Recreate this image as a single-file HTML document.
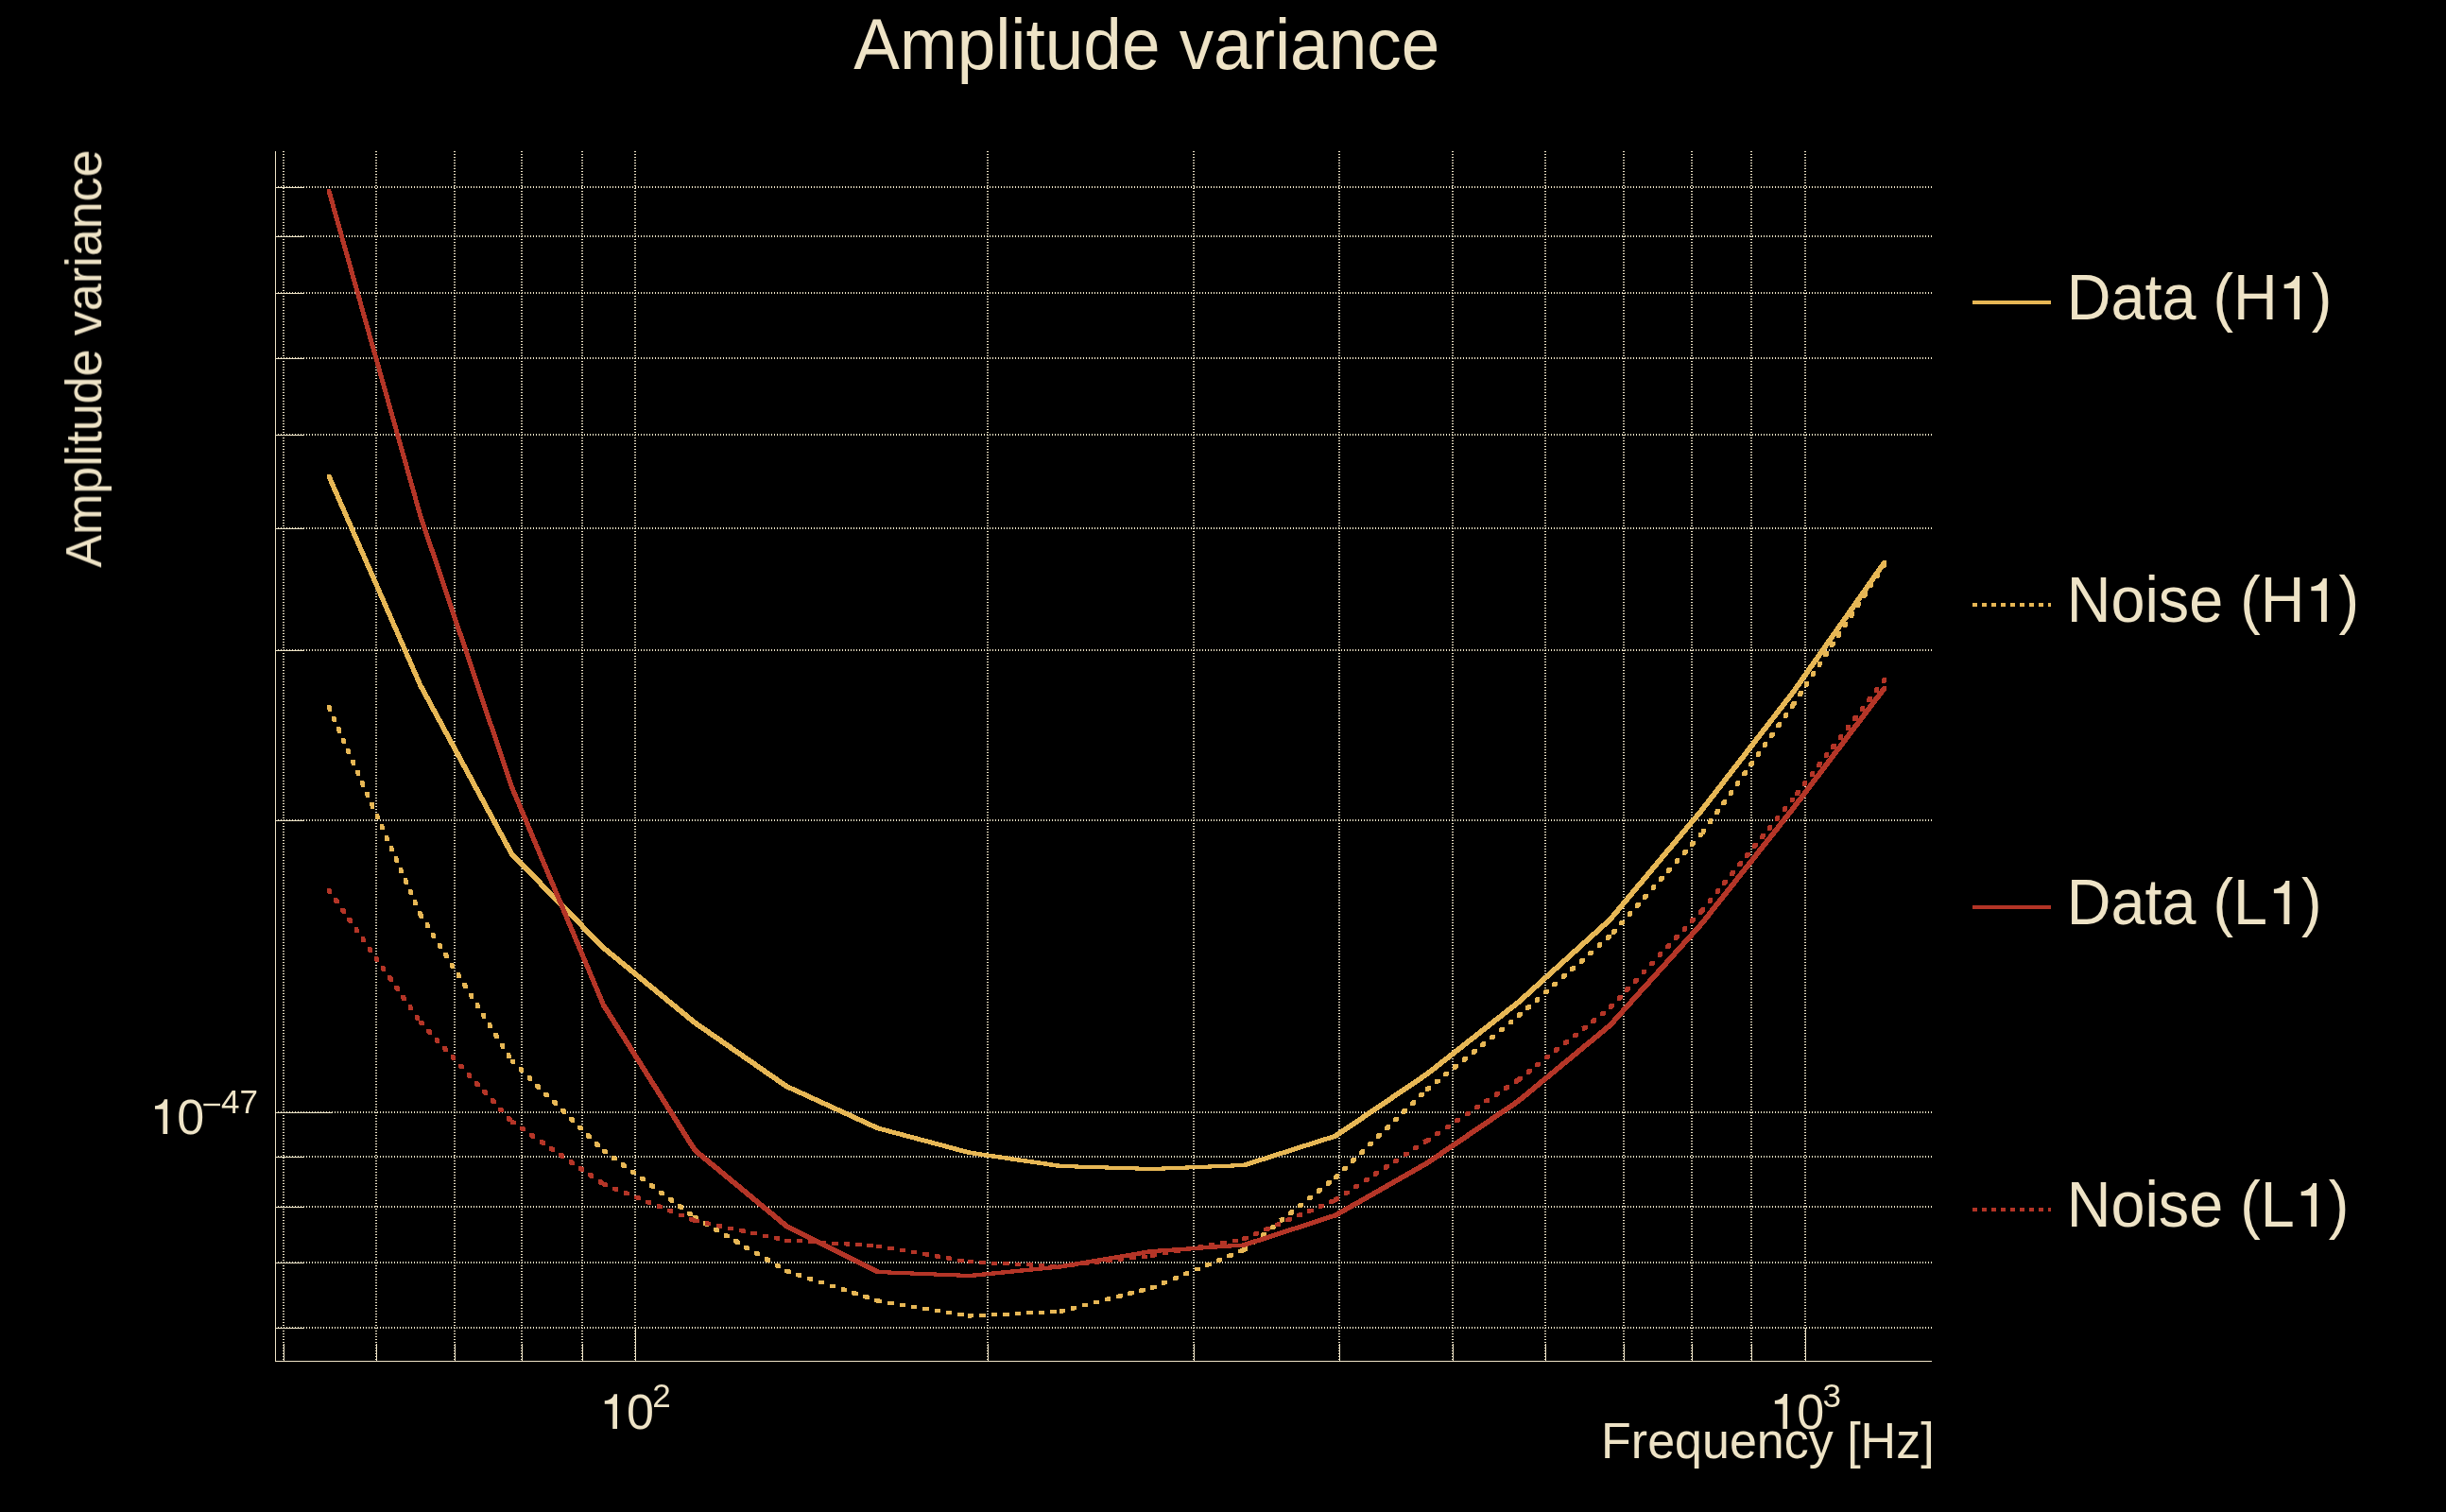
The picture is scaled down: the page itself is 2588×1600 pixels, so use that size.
<!DOCTYPE html>
<html><head><meta charset="utf-8"><title>Amplitude variance</title>
<style>
html,body{margin:0;padding:0;background:#000;}
body{width:2588px;height:1600px;overflow:hidden;}
svg{display:block;}
text{font-family:"Liberation Sans",sans-serif;fill:#EFE4C7;}
</style></head><body>
<svg width="2588" height="1600" viewBox="0 0 2588 1600">
<rect x="0" y="0" width="2588" height="1600" fill="#000"/>

<g stroke="#EFE4C7" stroke-width="2" stroke-dasharray="1 2" fill="none" shape-rendering="crispEdges">
<line x1="300" y1="160.0" x2="300" y2="1440.5"/>
<line x1="398" y1="160.0" x2="398" y2="1440.5"/>
<line x1="481" y1="160.0" x2="481" y2="1440.5"/>
<line x1="552" y1="160.0" x2="552" y2="1440.5"/>
<line x1="616" y1="160.0" x2="616" y2="1440.5"/>
<line x1="672" y1="160.0" x2="672" y2="1440.5"/>
<line x1="1045" y1="160.0" x2="1045" y2="1440.5"/>
<line x1="1263" y1="160.0" x2="1263" y2="1440.5"/>
<line x1="1417" y1="160.0" x2="1417" y2="1440.5"/>
<line x1="1537" y1="160.0" x2="1537" y2="1440.5"/>
<line x1="1635" y1="160.0" x2="1635" y2="1440.5"/>
<line x1="1718" y1="160.0" x2="1718" y2="1440.5"/>
<line x1="1790" y1="160.0" x2="1790" y2="1440.5"/>
<line x1="1853" y1="160.0" x2="1853" y2="1440.5"/>
<line x1="1910" y1="160.0" x2="1910" y2="1440.5"/>
<line x1="291.0" y1="198" x2="2044.0" y2="198"/>
<line x1="291.0" y1="250" x2="2044.0" y2="250"/>
<line x1="291.0" y1="310" x2="2044.0" y2="310"/>
<line x1="291.0" y1="379" x2="2044.0" y2="379"/>
<line x1="291.0" y1="460" x2="2044.0" y2="460"/>
<line x1="291.0" y1="559" x2="2044.0" y2="559"/>
<line x1="291.0" y1="688" x2="2044.0" y2="688"/>
<line x1="291.0" y1="868" x2="2044.0" y2="868"/>
<line x1="291.0" y1="1177" x2="2044.0" y2="1177"/>
<line x1="291.0" y1="1224" x2="2044.0" y2="1224"/>
<line x1="291.0" y1="1277" x2="2044.0" y2="1277"/>
<line x1="291.0" y1="1336" x2="2044.0" y2="1336"/>
<line x1="291.0" y1="1405" x2="2044.0" y2="1405"/>
</g>
<g stroke="#EFE4C7" stroke-width="1" fill="none" shape-rendering="crispEdges">
<line x1="291.5" y1="160.0" x2="291.5" y2="1440.5"/>
<line x1="291.5" y1="1440.5" x2="2044.0" y2="1440.5"/>
<line x1="291.5" y1="198.5" x2="321.5" y2="198.5"/>
<line x1="291.5" y1="250.5" x2="321.5" y2="250.5"/>
<line x1="291.5" y1="310.5" x2="321.5" y2="310.5"/>
<line x1="291.5" y1="379.5" x2="321.5" y2="379.5"/>
<line x1="291.5" y1="460.5" x2="321.5" y2="460.5"/>
<line x1="291.5" y1="559.5" x2="321.5" y2="559.5"/>
<line x1="291.5" y1="688.5" x2="321.5" y2="688.5"/>
<line x1="291.5" y1="868.5" x2="321.5" y2="868.5"/>
<line x1="291.5" y1="1177.5" x2="351.5" y2="1177.5"/>
<line x1="291.5" y1="1224.5" x2="321.5" y2="1224.5"/>
<line x1="291.5" y1="1277.5" x2="321.5" y2="1277.5"/>
<line x1="291.5" y1="1336.5" x2="321.5" y2="1336.5"/>
<line x1="291.5" y1="1405.5" x2="321.5" y2="1405.5"/>
<line x1="300.5" y1="1440.5" x2="300.5" y2="1421.5"/>
<line x1="398.5" y1="1440.5" x2="398.5" y2="1421.5"/>
<line x1="481.5" y1="1440.5" x2="481.5" y2="1421.5"/>
<line x1="552.5" y1="1440.5" x2="552.5" y2="1421.5"/>
<line x1="616.5" y1="1440.5" x2="616.5" y2="1421.5"/>
<line x1="672.5" y1="1440.5" x2="672.5" y2="1405.5"/>
<line x1="1045.5" y1="1440.5" x2="1045.5" y2="1421.5"/>
<line x1="1263.5" y1="1440.5" x2="1263.5" y2="1421.5"/>
<line x1="1417.5" y1="1440.5" x2="1417.5" y2="1421.5"/>
<line x1="1537.5" y1="1440.5" x2="1537.5" y2="1421.5"/>
<line x1="1635.5" y1="1440.5" x2="1635.5" y2="1421.5"/>
<line x1="1718.5" y1="1440.5" x2="1718.5" y2="1421.5"/>
<line x1="1790.5" y1="1440.5" x2="1790.5" y2="1421.5"/>
<line x1="1853.5" y1="1440.5" x2="1853.5" y2="1421.5"/>
<line x1="1910.5" y1="1440.5" x2="1910.5" y2="1405.5"/>
</g>
<path d="M346 502L350 502L446.8 723.2L446.8 727.2L442.8 727.2L346 506ZM442.8 723.2L446.8 723.2L543.6 901.9L543.6 905.9L539.6 905.9L442.8 727.2ZM539.6 901.9L543.6 901.9L640.5 1001L640.5 1005L636.5 1005L539.6 905.9ZM636.5 1001L640.5 1001L737.3 1080.3L737.3 1084.3L733.3 1084.3L636.5 1005ZM733.3 1080.3L737.3 1080.3L834.1 1147.5L834.1 1151.5L830.1 1151.5L733.3 1084.3ZM830.1 1147.5L834.1 1147.5L930.9 1191.9L930.9 1195.9L926.9 1195.9L830.1 1151.5ZM926.9 1191.9L930.9 1191.9L1027.8 1217.8L1027.8 1221.8L1023.8 1221.8L926.9 1195.9ZM1023.8 1217.8L1027.8 1217.8L1124.6 1232L1124.6 1236L1120.6 1236L1023.8 1221.8ZM1120.6 1232L1124.6 1232L1221.4 1235L1221.4 1239L1217.4 1239L1120.6 1236ZM1217.4 1235L1314.2 1231L1318.2 1231L1318.2 1235L1221.4 1239L1217.4 1239ZM1314.2 1231L1411.1 1200.1L1415.1 1200.1L1415.1 1204.1L1318.2 1235L1314.2 1235ZM1411.1 1200.1L1507.9 1134.5L1511.9 1134.5L1511.9 1138.5L1415.1 1204.1L1411.1 1204.1ZM1507.9 1134.5L1604.7 1058.5L1608.7 1058.5L1608.7 1062.5L1511.9 1138.5L1507.9 1138.5ZM1604.7 1058.5L1701.5 971.1L1705.5 971.1L1705.5 975.1L1608.7 1062.5L1604.7 1062.5ZM1701.5 971.1L1798.4 855.5L1802.4 855.5L1802.4 859.5L1705.5 975.1L1701.5 975.1ZM1798.4 855.5L1895.2 730.5L1899.2 730.5L1899.2 734.5L1802.4 859.5L1798.4 859.5ZM1895.2 730.5L1992 593L1996 593L1996 597L1899.2 734.5L1895.2 734.5Z" fill="#E7B755" stroke="none" shape-rendering="crispEdges"/>
<path d="M346 746.3L350 746.3L351 748.6L351 752.6L347 752.6L346 750.3ZM351 757.7L355 757.7L356.1 760L356.1 764L352.1 764L351 761.7ZM356.1 769.2L360.1 769.2L361.1 771.5L361.1 775.5L357.1 775.5L356.1 773.2ZM361.1 780.6L365.1 780.6L366.1 782.9L366.1 786.9L362.1 786.9L361.1 784.6ZM366.2 792L370.2 792L371.2 794.3L371.2 798.3L367.2 798.3L366.2 796ZM371.2 803.5L375.2 803.5L376.2 805.8L376.2 809.8L372.2 809.8L371.2 807.5ZM376.3 814.9L380.3 814.9L381.3 817.2L381.3 821.2L377.3 821.2L376.3 818.9ZM381.3 826.4L385.3 826.4L386.3 828.6L386.3 832.6L382.3 832.6L381.3 830.4ZM386.4 837.8L390.4 837.8L391.4 840.1L391.4 844.1L387.4 844.1L386.4 841.8ZM391.4 849.2L395.4 849.2L396.4 851.5L396.4 855.5L392.4 855.5L391.4 853.2ZM396.5 860.7L400.5 860.7L401.5 862.9L401.5 866.9L397.5 866.9L396.5 864.7ZM401.5 872.1L405.5 872.1L406.5 874.4L406.5 878.4L402.5 878.4L401.5 876.1ZM406.6 883.5L410.6 883.5L411.6 885.8L411.6 889.8L407.6 889.8L406.6 887.5ZM411.6 895L415.6 895L416.6 897.3L416.6 901.3L412.6 901.3L411.6 899ZM416.7 906.4L420.7 906.4L421.7 908.7L421.7 912.7L417.7 912.7L416.7 910.4ZM421.7 917.8L425.7 917.8L426.7 920.1L426.7 924.1L422.7 924.1L421.7 921.8ZM426.7 929.3L430.7 929.3L431.8 931.6L431.8 935.6L427.8 935.6L426.7 933.3ZM431.8 940.7L435.8 940.7L436.8 943L436.8 947L432.8 947L431.8 944.7ZM436.8 952.1L440.8 952.1L441.9 954.4L441.9 958.4L437.9 958.4L436.8 956.1ZM441.9 963.6L445.9 963.6L446.8 965.7L446.8 969.7L442.8 969.7L441.9 967.6ZM442.8 965.7L446.8 965.7L448.1 967.8L448.1 971.8L444.1 971.8L442.8 969.7ZM449.5 976.3L453.5 976.3L454.8 978.4L454.8 982.4L450.8 982.4L449.5 980.3ZM456.1 986.9L460.1 986.9L461.4 989L461.4 993L457.4 993L456.1 990.9ZM462.7 997.5L466.7 997.5L468 999.6L468 1003.6L464 1003.6L462.7 1001.5ZM469.3 1008.1L473.3 1008.1L474.7 1010.2L474.7 1014.2L470.7 1014.2L469.3 1012.1ZM476 1018.7L480 1018.7L481.3 1020.8L481.3 1024.8L477.3 1024.8L476 1022.7ZM482.6 1029.3L486.6 1029.3L487.9 1031.4L487.9 1035.4L483.9 1035.4L482.6 1033.3ZM489.2 1039.9L493.2 1039.9L494.5 1042L494.5 1046L490.5 1046L489.2 1043.9ZM495.9 1050.5L499.9 1050.5L501.2 1052.6L501.2 1056.6L497.2 1056.6L495.9 1054.5ZM502.5 1061.1L506.5 1061.1L507.8 1063.2L507.8 1067.2L503.8 1067.2L502.5 1065.1ZM509.1 1071.7L513.1 1071.7L514.4 1073.8L514.4 1077.8L510.4 1077.8L509.1 1075.7ZM515.7 1082.3L519.7 1082.3L521.1 1084.4L521.1 1088.4L517.1 1088.4L515.7 1086.3ZM522.4 1092.9L526.4 1092.9L527.7 1095L527.7 1099L523.7 1099L522.4 1096.9ZM529 1103.5L533 1103.5L534.3 1105.6L534.3 1109.6L530.3 1109.6L529 1107.5ZM535.6 1114.1L539.6 1114.1L540.9 1116.2L540.9 1120.2L536.9 1120.2L535.6 1118.1ZM539.6 1120.5L543.6 1120.5L545.4 1122.3L545.4 1126.3L541.4 1126.3L539.6 1124.5ZM548.6 1129.3L552.6 1129.3L554.4 1131L554.4 1135L550.4 1135L548.6 1133.3ZM557.5 1138L561.5 1138L563.3 1139.8L563.3 1143.8L559.3 1143.8L557.5 1142ZM566.4 1146.8L570.4 1146.8L572.2 1148.5L572.2 1152.5L568.2 1152.5L566.4 1150.8ZM575.3 1155.5L579.3 1155.5L581.1 1157.3L581.1 1161.3L577.1 1161.3L575.3 1159.5ZM584.3 1164.3L588.3 1164.3L590 1166L590 1170L586 1170L584.3 1168.3ZM593.2 1173L597.2 1173L599 1174.8L599 1178.8L595 1178.8L593.2 1177ZM602.1 1181.8L606.1 1181.8L607.9 1183.5L607.9 1187.5L603.9 1187.5L602.1 1185.8ZM611 1190.5L615 1190.5L616.8 1192.3L616.8 1196.3L612.8 1196.3L611 1194.5ZM619.9 1199.3L623.9 1199.3L625.7 1201L625.7 1205L621.7 1205L619.9 1203.3ZM628.9 1208L632.9 1208L634.7 1209.8L634.7 1213.8L630.7 1213.8L628.9 1212ZM636.5 1215.5L640.5 1215.5L642.5 1217L642.5 1221L638.5 1221L636.5 1219.5ZM646.6 1222.9L650.6 1222.9L652.6 1224.3L652.6 1228.3L648.6 1228.3L646.6 1226.9ZM656.7 1230.2L660.7 1230.2L662.7 1231.7L662.7 1235.7L658.7 1235.7L656.7 1234.2ZM666.8 1237.6L670.8 1237.6L672.8 1239L672.8 1243L668.8 1243L666.8 1241.6ZM676.9 1244.9L680.9 1244.9L682.9 1246.4L682.9 1250.4L678.9 1250.4L676.9 1248.9ZM687 1252.3L691 1252.3L693 1253.8L693 1257.8L689 1257.8L687 1256.3ZM697.1 1259.6L701.1 1259.6L703.1 1261.1L703.1 1265.1L699.1 1265.1L697.1 1263.6ZM707.2 1267L711.2 1267L713.2 1268.5L713.2 1272.5L709.2 1272.5L707.2 1271ZM717.3 1274.4L721.3 1274.4L723.3 1275.8L723.3 1279.8L719.3 1279.8L717.3 1278.4ZM727.4 1281.7L731.4 1281.7L733.4 1283.2L733.4 1287.2L729.4 1287.2L727.4 1285.7ZM733.3 1286L737.3 1286L739.4 1287.3L739.4 1291.3L735.4 1291.3L733.3 1290ZM744.1 1292.3L748.1 1292.3L750.2 1293.6L750.2 1297.6L746.2 1297.6L744.1 1296.3ZM754.8 1298.7L758.8 1298.7L761 1300L761 1304L757 1304L754.8 1302.7ZM765.6 1305L769.6 1305L771.8 1306.3L771.8 1310.3L767.8 1310.3L765.6 1309ZM776.4 1311.4L780.4 1311.4L782.5 1312.6L782.5 1316.6L778.5 1316.6L776.4 1315.4ZM787.2 1317.7L791.2 1317.7L793.3 1319L793.3 1323L789.3 1323L787.2 1321.7ZM797.9 1324L801.9 1324L804.1 1325.3L804.1 1329.3L800.1 1329.3L797.9 1328ZM808.7 1330.4L812.7 1330.4L814.9 1331.7L814.9 1335.7L810.9 1335.7L808.7 1334.4ZM819.5 1336.7L823.5 1336.7L825.6 1338L825.6 1342L821.6 1342L819.5 1340.7ZM830.1 1343L834.1 1343L836.5 1343.8L836.5 1347.8L832.5 1347.8L830.1 1347ZM842 1346.9L846 1346.9L848.4 1347.7L848.4 1351.7L844.4 1351.7L842 1350.9ZM853.9 1350.8L857.9 1350.8L860.3 1351.5L860.3 1355.5L856.3 1355.5L853.9 1354.8ZM865.8 1354.6L869.8 1354.6L872.1 1355.4L872.1 1359.4L868.1 1359.4L865.8 1358.6ZM877.7 1358.5L881.7 1358.5L884 1359.3L884 1363.3L880 1363.3L877.7 1362.5ZM889.5 1362.4L893.5 1362.4L895.9 1363.2L895.9 1367.2L891.9 1367.2L889.5 1366.4ZM901.4 1366.3L905.4 1366.3L907.8 1367L907.8 1371L903.8 1371L901.4 1370.3ZM913.3 1370.1L917.3 1370.1L919.7 1370.9L919.7 1374.9L915.7 1374.9L913.3 1374.1ZM925.2 1374L929.2 1374L930.9 1374.6L930.9 1378.6L926.9 1378.6L925.2 1378ZM926.9 1374.6L930.9 1374.6L933.4 1375L933.4 1379L929.4 1379L926.9 1378.6ZM939.3 1376.6L943.3 1376.6L945.7 1377L945.7 1381L941.7 1381L939.3 1380.6ZM951.6 1378.7L955.6 1378.7L958.1 1379.1L958.1 1383.1L954.1 1383.1L951.6 1382.7ZM963.9 1380.7L967.9 1380.7L970.4 1381.1L970.4 1385.1L966.4 1385.1L963.9 1384.7ZM976.3 1382.7L980.3 1382.7L982.7 1383.1L982.7 1387.1L978.7 1387.1L976.3 1386.7ZM988.6 1384.7L992.6 1384.7L995.1 1385.1L995.1 1389.1L991.1 1389.1L988.6 1388.7ZM1000.9 1386.8L1004.9 1386.8L1007.4 1387.2L1007.4 1391.2L1003.4 1391.2L1000.9 1390.8ZM1013.3 1388.8L1017.3 1388.8L1019.8 1389.2L1019.8 1393.2L1015.8 1393.2L1013.3 1392.8ZM1023.8 1390.5L1026.3 1390.4L1030.3 1390.4L1030.3 1394.4L1027.8 1394.5L1023.8 1394.5ZM1036.2 1389.9L1038.7 1389.7L1042.7 1389.7L1042.7 1393.7L1040.2 1393.9L1036.2 1393.9ZM1048.7 1389.2L1051.2 1389.1L1055.2 1389.1L1055.2 1393.1L1052.7 1393.2L1048.7 1393.2ZM1061.2 1388.6L1063.7 1388.5L1067.7 1388.5L1067.7 1392.5L1065.2 1392.6L1061.2 1392.6ZM1073.7 1388L1076.2 1387.8L1080.2 1387.8L1080.2 1391.8L1077.7 1392L1073.7 1392ZM1086.2 1387.3L1088.7 1387.2L1092.7 1387.2L1092.7 1391.2L1090.2 1391.3L1086.2 1391.3ZM1098.7 1386.7L1101.2 1386.6L1105.2 1386.6L1105.2 1390.6L1102.7 1390.7L1098.7 1390.7ZM1111.2 1386.1L1113.6 1386L1117.6 1386L1117.6 1390L1115.2 1390.1L1111.2 1390.1ZM1120.6 1385.6L1123 1385L1127 1385L1127 1389L1124.6 1389.6L1120.6 1389.6ZM1132.7 1382.5L1135.1 1381.8L1139.1 1381.8L1139.1 1385.8L1136.7 1386.5L1132.7 1386.5ZM1144.8 1379.3L1147.2 1378.7L1151.2 1378.7L1151.2 1382.7L1148.8 1383.3L1144.8 1383.3ZM1156.9 1376.2L1159.3 1375.6L1163.3 1375.6L1163.3 1379.6L1160.9 1380.2L1156.9 1380.2ZM1169 1373.1L1171.4 1372.4L1175.4 1372.4L1175.4 1376.4L1173 1377.1L1169 1377.1ZM1181.1 1369.9L1183.5 1369.3L1187.5 1369.3L1187.5 1373.3L1185.1 1373.9L1181.1 1373.9ZM1193.2 1366.8L1195.6 1366.2L1199.6 1366.2L1199.6 1370.2L1197.2 1370.8L1193.2 1370.8ZM1205.3 1363.6L1207.7 1363L1211.7 1363L1211.7 1367L1209.3 1367.6L1205.3 1367.6ZM1217.4 1360.5L1217.4 1360.5L1221.4 1360.5L1221.4 1364.5L1221.4 1364.5L1217.4 1364.5ZM1217.4 1360.5L1219.7 1359.5L1223.7 1359.5L1223.7 1363.5L1221.4 1364.5L1217.4 1364.5ZM1229 1355.7L1231.3 1354.8L1235.3 1354.8L1235.3 1358.8L1233 1359.7L1229 1359.7ZM1240.5 1351L1242.8 1350L1246.8 1350L1246.8 1354L1244.5 1355L1240.5 1355ZM1252.1 1346.2L1254.4 1345.2L1258.4 1345.2L1258.4 1349.2L1256.1 1350.2L1252.1 1350.2ZM1263.6 1341.4L1265.9 1340.5L1269.9 1340.5L1269.9 1344.5L1267.6 1345.4L1263.6 1345.4ZM1275.2 1336.6L1277.5 1335.7L1281.5 1335.7L1281.5 1339.7L1279.2 1340.6L1275.2 1340.6ZM1286.7 1331.9L1289 1330.9L1293 1330.9L1293 1334.9L1290.7 1335.9L1286.7 1335.9ZM1298.3 1327.1L1300.6 1326.1L1304.6 1326.1L1304.6 1330.1L1302.3 1331.1L1298.3 1331.1ZM1309.8 1322.3L1312.1 1321.4L1316.1 1321.4L1316.1 1325.4L1313.8 1326.3L1309.8 1326.3ZM1314.2 1320.5L1316.2 1319L1320.2 1319L1320.2 1323L1318.2 1324.5L1314.2 1324.5ZM1324 1312.8L1326 1311.2L1330 1311.2L1330 1315.2L1328 1316.8L1324 1316.8ZM1333.9 1305L1335.8 1303.5L1339.8 1303.5L1339.8 1307.5L1337.9 1309L1333.9 1309ZM1343.7 1297.3L1345.6 1295.7L1349.6 1295.7L1349.6 1299.7L1347.7 1301.3L1343.7 1301.3ZM1353.5 1289.5L1355.4 1288L1359.4 1288L1359.4 1292L1357.5 1293.5L1353.5 1293.5ZM1363.3 1281.8L1365.2 1280.2L1369.2 1280.2L1369.2 1284.2L1367.3 1285.8L1363.3 1285.8ZM1373.1 1274L1375 1272.5L1379 1272.5L1379 1276.5L1377.1 1278L1373.1 1278ZM1382.9 1266.3L1384.9 1264.7L1388.9 1264.7L1388.9 1268.7L1386.9 1270.3L1382.9 1270.3ZM1392.7 1258.5L1394.7 1257L1398.7 1257L1398.7 1261L1396.7 1262.5L1392.7 1262.5ZM1402.5 1250.8L1404.5 1249.2L1408.5 1249.2L1408.5 1253.2L1406.5 1254.8L1402.5 1254.8ZM1411.1 1244L1412.9 1242.3L1416.9 1242.3L1416.9 1246.3L1415.1 1248L1411.1 1248ZM1420.1 1235.3L1421.9 1233.6L1425.9 1233.6L1425.9 1237.6L1424.1 1239.3L1420.1 1239.3ZM1429.1 1226.7L1430.9 1225L1434.9 1225L1434.9 1229L1433.1 1230.7L1429.1 1230.7ZM1438.1 1218L1439.9 1216.3L1443.9 1216.3L1443.9 1220.3L1442.1 1222L1438.1 1222ZM1447.1 1209.4L1448.9 1207.6L1452.9 1207.6L1452.9 1211.6L1451.1 1213.4L1447.1 1213.4ZM1456.1 1200.7L1457.9 1199L1461.9 1199L1461.9 1203L1460.1 1204.7L1456.1 1204.7ZM1465.1 1192L1467 1190.3L1471 1190.3L1471 1194.3L1469.1 1196L1465.1 1196ZM1474.2 1183.4L1476 1181.7L1480 1181.7L1480 1185.7L1478.2 1187.4L1474.2 1187.4ZM1483.2 1174.7L1485 1173L1489 1173L1489 1177L1487.2 1178.7L1483.2 1178.7ZM1492.2 1166.1L1494 1164.3L1498 1164.3L1498 1168.3L1496.2 1170.1L1492.2 1170.1ZM1501.2 1157.4L1503 1155.7L1507 1155.7L1507 1159.7L1505.2 1161.4L1501.2 1161.4ZM1507.9 1151L1509.8 1149.4L1513.8 1149.4L1513.8 1153.4L1511.9 1155L1507.9 1155ZM1517.6 1143.2L1519.6 1141.6L1523.6 1141.6L1523.6 1145.6L1521.6 1147.2L1517.6 1147.2ZM1527.4 1135.3L1529.3 1133.7L1533.3 1133.7L1533.3 1137.7L1531.4 1139.3L1527.4 1139.3ZM1537.1 1127.5L1539 1125.9L1543 1125.9L1543 1129.9L1541.1 1131.5L1537.1 1131.5ZM1546.8 1119.6L1548.8 1118.1L1552.8 1118.1L1552.8 1122.1L1550.8 1123.6L1546.8 1123.6ZM1556.6 1111.8L1558.5 1110.2L1562.5 1110.2L1562.5 1114.2L1560.6 1115.8L1556.6 1115.8ZM1566.3 1103.9L1568.2 1102.4L1572.2 1102.4L1572.2 1106.4L1570.3 1107.9L1566.3 1107.9ZM1576 1096.1L1578 1094.5L1582 1094.5L1582 1098.5L1580 1100.1L1576 1100.1ZM1585.8 1088.3L1587.7 1086.7L1591.7 1086.7L1591.7 1090.7L1589.8 1092.3L1585.8 1092.3ZM1595.5 1080.4L1597.4 1078.9L1601.4 1078.9L1601.4 1082.9L1599.5 1084.4L1595.5 1084.4ZM1604.7 1073L1606.6 1071.4L1610.6 1071.4L1610.6 1075.4L1608.7 1077L1604.7 1077ZM1614.1 1064.8L1616 1063.1L1620 1063.1L1620 1067.1L1618.1 1068.8L1614.1 1068.8ZM1623.5 1056.6L1625.4 1054.9L1629.4 1054.9L1629.4 1058.9L1627.5 1060.6L1623.5 1060.6ZM1633 1048.3L1634.8 1046.7L1638.8 1046.7L1638.8 1050.7L1637 1052.3L1633 1052.3ZM1642.4 1040.1L1644.3 1038.5L1648.3 1038.5L1648.3 1042.5L1646.4 1044.1L1642.4 1044.1ZM1651.8 1031.9L1653.7 1030.3L1657.7 1030.3L1657.7 1034.3L1655.8 1035.9L1651.8 1035.9ZM1661.2 1023.7L1663.1 1022L1667.1 1022L1667.1 1026L1665.2 1027.7L1661.2 1027.7ZM1670.6 1015.5L1672.5 1013.8L1676.5 1013.8L1676.5 1017.8L1674.6 1019.5L1670.6 1019.5ZM1680 1007.2L1681.9 1005.6L1685.9 1005.6L1685.9 1009.6L1684 1011.2L1680 1011.2ZM1689.5 999L1691.3 997.4L1695.3 997.4L1695.3 1001.4L1693.5 1003L1689.5 1003ZM1698.9 990.8L1700.8 989.2L1704.8 989.2L1704.8 993.2L1702.9 994.8L1698.9 994.8ZM1796.7 882.4L1798.4 880.5L1802.4 880.5L1802.4 884.5L1800.7 886.4L1796.7 886.4ZM1788.3 891.7L1790 889.8L1794 889.8L1794 893.8L1792.3 895.7L1788.3 895.7ZM1780 901L1781.7 899.1L1785.7 899.1L1785.7 903.1L1784 905L1780 905ZM1771.7 910.3L1773.3 908.4L1777.3 908.4L1777.3 912.4L1775.7 914.3L1771.7 914.3ZM1763.3 919.6L1765 917.7L1769 917.7L1769 921.7L1767.3 923.6L1763.3 923.6ZM1755 928.9L1756.6 927L1760.6 927L1760.6 931L1759 932.9L1755 932.9ZM1746.6 938.2L1748.3 936.3L1752.3 936.3L1752.3 940.3L1750.6 942.2L1746.6 942.2ZM1738.3 947.5L1739.9 945.7L1743.9 945.7L1743.9 949.7L1742.3 951.5L1738.3 951.5ZM1729.9 956.8L1731.6 955L1735.6 955L1735.6 959L1733.9 960.8L1729.9 960.8ZM1721.6 966.1L1723.3 964.3L1727.3 964.3L1727.3 968.3L1725.6 970.1L1721.6 970.1ZM1713.2 975.4L1714.9 973.6L1718.9 973.6L1718.9 977.6L1717.2 979.4L1713.2 979.4ZM1704.9 984.7L1706.6 982.9L1710.6 982.9L1710.6 986.9L1708.9 988.7L1704.9 988.7ZM1893.7 746L1895.2 744L1899.2 744L1899.2 748L1897.7 750L1893.7 750ZM1886.5 756.2L1887.9 754.2L1891.9 754.2L1891.9 758.2L1890.5 760.2L1886.5 760.2ZM1879.3 766.4L1880.7 764.4L1884.7 764.4L1884.7 768.4L1883.3 770.4L1879.3 770.4ZM1872 776.6L1873.5 774.6L1877.5 774.6L1877.5 778.6L1876 780.6L1872 780.6ZM1864.8 786.8L1866.2 784.8L1870.2 784.8L1870.2 788.8L1868.8 790.8L1864.8 790.8ZM1857.6 797L1859 795L1863 795L1863 799L1861.6 801L1857.6 801ZM1850.3 807.2L1851.8 805.2L1855.8 805.2L1855.8 809.2L1854.3 811.2L1850.3 811.2ZM1843.1 817.4L1844.6 815.4L1848.6 815.4L1848.6 819.4L1847.1 821.4L1843.1 821.4ZM1835.9 827.6L1837.3 825.6L1841.3 825.6L1841.3 829.6L1839.9 831.6L1835.9 831.6ZM1828.6 837.8L1830.1 835.8L1834.1 835.8L1834.1 839.8L1832.6 841.8L1828.6 841.8ZM1821.4 848L1822.9 846L1826.9 846L1826.9 850L1825.4 852L1821.4 852ZM1814.2 858.2L1815.6 856.2L1819.6 856.2L1819.6 860.2L1818.2 862.2L1814.2 862.2ZM1806.9 868.4L1808.4 866.3L1812.4 866.3L1812.4 870.3L1810.9 872.4L1806.9 872.4ZM1799.7 878.6L1801.2 876.5L1805.2 876.5L1805.2 880.5L1803.7 882.6L1799.7 882.6ZM1990.6 597.1L1992 595L1996 595L1996 599L1994.6 601.1L1990.6 601.1ZM1983.8 607.6L1985.2 605.5L1989.2 605.5L1989.2 609.5L1987.8 611.6L1983.8 611.6ZM1977 618.1L1978.4 616L1982.4 616L1982.4 620L1981 622.1L1977 622.1ZM1970.2 628.5L1971.6 626.4L1975.6 626.4L1975.6 630.4L1974.2 632.5L1970.2 632.5ZM1963.4 639L1964.8 636.9L1968.8 636.9L1968.8 640.9L1967.4 643L1963.4 643ZM1956.6 649.5L1957.9 647.4L1961.9 647.4L1961.9 651.4L1960.6 653.5L1956.6 653.5ZM1949.8 660L1951.1 657.9L1955.1 657.9L1955.1 661.9L1953.8 664L1949.8 664ZM1943 670.5L1944.3 668.4L1948.3 668.4L1948.3 672.4L1947 674.5L1943 674.5ZM1936.1 680.9L1937.5 678.9L1941.5 678.9L1941.5 682.9L1940.1 684.9L1936.1 684.9ZM1929.3 691.4L1930.7 689.3L1934.7 689.3L1934.7 693.3L1933.3 695.4L1929.3 695.4ZM1922.5 701.9L1923.9 699.8L1927.9 699.8L1927.9 703.8L1926.5 705.9L1922.5 705.9ZM1915.7 712.4L1917.1 710.3L1921.1 710.3L1921.1 714.3L1919.7 716.4L1915.7 716.4ZM1908.9 722.9L1910.3 720.8L1914.3 720.8L1914.3 724.8L1912.9 726.9L1908.9 726.9ZM1902.1 733.4L1903.5 731.3L1907.5 731.3L1907.5 735.3L1906.1 737.4L1902.1 737.4ZM1895.3 743.8L1896.6 741.7L1900.6 741.7L1900.6 745.7L1899.3 747.8L1895.3 747.8Z" fill="#E7B755" stroke="none" shape-rendering="crispEdges"/>
<path d="M346 200L350 200L446.8 543.8L446.8 547.8L442.8 547.8L346 204ZM442.8 543.8L446.8 543.8L543.6 831L543.6 835L539.6 835L442.8 547.8ZM539.6 831L543.6 831L640.5 1061.5L640.5 1065.5L636.5 1065.5L539.6 835ZM636.5 1061.5L640.5 1061.5L737.3 1215.3L737.3 1219.3L733.3 1219.3L636.5 1065.5ZM733.3 1215.3L737.3 1215.3L834.1 1295.3L834.1 1299.3L830.1 1299.3L733.3 1219.3ZM830.1 1295.3L834.1 1295.3L930.9 1344L930.9 1348L926.9 1348L830.1 1299.3ZM926.9 1344L930.9 1344L1027.8 1348L1027.8 1352L1023.8 1352L926.9 1348ZM1023.8 1348L1120.6 1338.3L1124.6 1338.3L1124.6 1342.3L1027.8 1352L1023.8 1352ZM1120.6 1338.3L1217.4 1322L1221.4 1322L1221.4 1326L1124.6 1342.3L1120.6 1342.3ZM1217.4 1322L1314.2 1315.5L1318.2 1315.5L1318.2 1319.5L1221.4 1326L1217.4 1326ZM1314.2 1315.5L1411.1 1284L1415.1 1284L1415.1 1288L1318.2 1319.5L1314.2 1319.5ZM1411.1 1284L1507.9 1228.8L1511.9 1228.8L1511.9 1232.8L1415.1 1288L1411.1 1288ZM1507.9 1228.8L1604.7 1163L1608.7 1163L1608.7 1167L1511.9 1232.8L1507.9 1232.8ZM1604.7 1163L1701.5 1083L1705.5 1083L1705.5 1087L1608.7 1167L1604.7 1167ZM1701.5 1083L1798.4 975.5L1802.4 975.5L1802.4 979.5L1705.5 1087L1701.5 1087ZM1798.4 975.5L1895.2 853.5L1899.2 853.5L1899.2 857.5L1802.4 979.5L1798.4 979.5ZM1895.2 853.5L1992 726L1996 726L1996 730L1899.2 857.5L1895.2 857.5Z" fill="#B43527" stroke="none" shape-rendering="crispEdges"/>
<path d="M346 940L350 940L351.4 942.1L351.4 946.1L347.4 946.1L346 944ZM353.1 950.3L357.1 950.3L358.6 952.3L358.6 956.3L354.6 956.3L353.1 954.3ZM360.3 960.5L364.3 960.5L365.7 962.6L365.7 966.6L361.7 966.6L360.3 964.5ZM367.4 970.8L371.4 970.8L372.8 972.9L372.8 976.9L368.8 976.9L367.4 974.8ZM374.5 981.1L378.5 981.1L379.9 983.1L379.9 987.1L375.9 987.1L374.5 985.1ZM381.6 991.3L385.6 991.3L387.1 993.4L387.1 997.4L383.1 997.4L381.6 995.3ZM388.8 1001.6L392.8 1001.6L394.2 1003.7L394.2 1007.7L390.2 1007.7L388.8 1005.6ZM395.9 1011.9L399.9 1011.9L401.3 1013.9L401.3 1017.9L397.3 1017.9L395.9 1015.9ZM403 1022.2L407 1022.2L408.4 1024.2L408.4 1028.2L404.4 1028.2L403 1026.2ZM410.1 1032.4L414.1 1032.4L415.6 1034.5L415.6 1038.5L411.6 1038.5L410.1 1036.4ZM417.3 1042.7L421.3 1042.7L422.7 1044.7L422.7 1048.7L418.7 1048.7L417.3 1046.7ZM424.4 1053L428.4 1053L429.8 1055L429.8 1059L425.8 1059L424.4 1057ZM431.5 1063.2L435.5 1063.2L437 1065.3L437 1069.3L433 1069.3L431.5 1067.2ZM438.7 1073.5L442.7 1073.5L444.1 1075.5L444.1 1079.5L440.1 1079.5L438.7 1077.5ZM442.8 1079.5L446.8 1079.5L448.5 1081.3L448.5 1085.3L444.5 1085.3L442.8 1083.5ZM451.3 1088.7L455.3 1088.7L457 1090.6L457 1094.6L453 1094.6L451.3 1092.7ZM459.7 1097.9L463.7 1097.9L465.4 1099.8L465.4 1103.8L461.4 1103.8L459.7 1101.9ZM468.2 1107.1L472.2 1107.1L473.9 1109L473.9 1113L469.9 1113L468.2 1111.1ZM476.6 1116.3L480.6 1116.3L482.3 1118.2L482.3 1122.2L478.3 1122.2L476.6 1120.3ZM485.1 1125.5L489.1 1125.5L490.8 1127.4L490.8 1131.4L486.8 1131.4L485.1 1129.5ZM493.5 1134.8L497.5 1134.8L499.2 1136.6L499.2 1140.6L495.2 1140.6L493.5 1138.8ZM502 1144L506 1144L507.7 1145.8L507.7 1149.8L503.7 1149.8L502 1148ZM510.4 1153.2L514.4 1153.2L516.1 1155L516.1 1159L512.1 1159L510.4 1157.2ZM518.9 1162.4L522.9 1162.4L524.6 1164.2L524.6 1168.2L520.6 1168.2L518.9 1166.4ZM527.3 1171.6L531.3 1171.6L533 1173.4L533 1177.4L529 1177.4L527.3 1175.6ZM535.8 1180.8L539.8 1180.8L541.5 1182.6L541.5 1186.6L537.5 1186.6L535.8 1184.8ZM539.6 1185L543.6 1185L545.7 1186.4L545.7 1190.4L541.7 1190.4L539.6 1189ZM550 1192L554 1192L556 1193.4L556 1197.4L552 1197.4L550 1196ZM560.3 1199.1L564.3 1199.1L566.4 1200.5L566.4 1204.5L562.4 1204.5L560.3 1203.1ZM570.6 1206.1L574.6 1206.1L576.7 1207.5L576.7 1211.5L572.7 1211.5L570.6 1210.1ZM581 1213.2L585 1213.2L587 1214.6L587 1218.6L583 1218.6L581 1217.2ZM591.3 1220.2L595.3 1220.2L597.4 1221.6L597.4 1225.6L593.4 1225.6L591.3 1224.2ZM601.6 1227.2L605.6 1227.2L607.7 1228.7L607.7 1232.7L603.7 1232.7L601.6 1231.2ZM611.9 1234.3L615.9 1234.3L618 1235.7L618 1239.7L614 1239.7L611.9 1238.3ZM622.3 1241.3L626.3 1241.3L628.3 1242.7L628.3 1246.7L624.3 1246.7L622.3 1245.3ZM632.6 1248.4L636.6 1248.4L638.7 1249.8L638.7 1253.8L634.7 1253.8L632.6 1252.4ZM636.5 1251L640.5 1251L642.8 1251.9L642.8 1255.9L638.8 1255.9L636.5 1255ZM648.1 1255.6L652.1 1255.6L654.4 1256.6L654.4 1260.6L650.4 1260.6L648.1 1259.6ZM659.7 1260.3L663.7 1260.3L666 1261.2L666 1265.2L662 1265.2L659.7 1264.3ZM671.3 1264.9L675.3 1264.9L677.6 1265.8L677.6 1269.8L673.6 1269.8L671.3 1268.9ZM682.9 1269.6L686.9 1269.6L689.2 1270.5L689.2 1274.5L685.2 1274.5L682.9 1273.6ZM694.5 1274.2L698.5 1274.2L700.8 1275.1L700.8 1279.1L696.8 1279.1L694.5 1278.2ZM706.1 1278.8L710.1 1278.8L712.4 1279.8L712.4 1283.8L708.4 1283.8L706.1 1282.8ZM717.7 1283.5L721.7 1283.5L724 1284.4L724 1288.4L720 1288.4L717.7 1287.5ZM729.3 1288.1L733.3 1288.1L735.6 1289L735.6 1293L731.6 1293L729.3 1292.1ZM733.3 1289.7L737.3 1289.7L739.7 1290.2L739.7 1294.2L735.7 1294.2L733.3 1293.7ZM745.5 1292.3L749.5 1292.3L752 1292.9L752 1296.9L748 1296.9L745.5 1296.3ZM757.7 1295L761.7 1295L764.2 1295.5L764.2 1299.5L760.2 1299.5L757.7 1299ZM770 1297.6L774 1297.6L776.4 1298.1L776.4 1302.1L772.4 1302.1L770 1301.6ZM782.2 1300.2L786.2 1300.2L788.6 1300.7L788.6 1304.7L784.6 1304.7L782.2 1304.2ZM794.4 1302.8L798.4 1302.8L800.8 1303.4L800.8 1307.4L796.8 1307.4L794.4 1306.8ZM806.6 1305.5L810.6 1305.5L813.1 1306L813.1 1310L809.1 1310L806.6 1309.5ZM818.8 1308.1L822.8 1308.1L825.3 1308.6L825.3 1312.6L821.3 1312.6L818.8 1312.1ZM830.1 1310.5L834.1 1310.5L836.6 1310.7L836.6 1314.7L832.6 1314.7L830.1 1314.5ZM842.6 1311.3L846.6 1311.3L849.1 1311.4L849.1 1315.4L845.1 1315.4L842.6 1315.3ZM855.1 1312L859.1 1312L861.6 1312.2L861.6 1316.2L857.6 1316.2L855.1 1316ZM867.5 1312.8L871.5 1312.8L874 1313L874 1317L870 1317L867.5 1316.8ZM880 1313.6L884 1313.6L886.5 1313.7L886.5 1317.7L882.5 1317.7L880 1317.6ZM892.5 1314.4L896.5 1314.4L899 1314.5L899 1318.5L895 1318.5L892.5 1318.4ZM905 1315.1L909 1315.1L911.5 1315.3L911.5 1319.3L907.5 1319.3L905 1319.1ZM917.4 1315.9L921.4 1315.9L923.9 1316.1L923.9 1320.1L919.9 1320.1L917.4 1319.9ZM926.9 1316.5L930.9 1316.5L933.4 1316.9L933.4 1320.9L929.4 1320.9L926.9 1320.5ZM939.3 1318.6L943.3 1318.6L945.7 1319.1L945.7 1323.1L941.7 1323.1L939.3 1322.6ZM951.6 1320.8L955.6 1320.8L958 1321.2L958 1325.2L954 1325.2L951.6 1324.8ZM963.9 1322.9L967.9 1322.9L970.4 1323.3L970.4 1327.3L966.4 1327.3L963.9 1326.9ZM976.2 1325L980.2 1325L982.7 1325.5L982.7 1329.5L978.7 1329.5L976.2 1329ZM988.5 1327.2L992.5 1327.2L995 1327.6L995 1331.6L991 1331.6L988.5 1331.2ZM1000.8 1329.3L1004.8 1329.3L1007.3 1329.7L1007.3 1333.7L1003.3 1333.7L1000.8 1333.3ZM1013.2 1331.5L1017.2 1331.5L1019.6 1331.9L1019.6 1335.9L1015.6 1335.9L1013.2 1335.5ZM1023.8 1333.3L1027.8 1333.3L1030.3 1333.4L1030.3 1337.4L1026.3 1337.4L1023.8 1337.3ZM1036.2 1333.9L1040.2 1333.9L1042.7 1334L1042.7 1338L1038.7 1338L1036.2 1337.9ZM1048.7 1334.5L1052.7 1334.5L1055.2 1334.6L1055.2 1338.6L1051.2 1338.6L1048.7 1338.5ZM1061.2 1335.1L1065.2 1335.1L1067.7 1335.2L1067.7 1339.2L1063.7 1339.2L1061.2 1339.1ZM1073.7 1335.7L1077.7 1335.7L1080.2 1335.8L1080.2 1339.8L1076.2 1339.8L1073.7 1339.7ZM1086.2 1336.3L1090.2 1336.3L1092.7 1336.5L1092.7 1340.5L1088.7 1340.5L1086.2 1340.3ZM1098.7 1336.9L1102.7 1336.9L1105.2 1337.1L1105.2 1341.1L1101.2 1341.1L1098.7 1340.9ZM1111.2 1337.5L1115.2 1337.5L1117.7 1337.7L1117.7 1341.7L1113.7 1341.7L1111.2 1341.5ZM1120.6 1338L1123.1 1337.7L1127.1 1337.7L1127.1 1341.7L1124.6 1342L1120.6 1342ZM1133 1336.5L1135.5 1336.2L1139.5 1336.2L1139.5 1340.2L1137 1340.5L1133 1340.5ZM1145.4 1335.1L1147.9 1334.8L1151.9 1334.8L1151.9 1338.8L1149.4 1339.1L1145.4 1339.1ZM1157.8 1333.6L1160.3 1333.3L1164.3 1333.3L1164.3 1337.3L1161.8 1337.6L1157.8 1337.6ZM1170.2 1332.2L1172.7 1331.9L1176.7 1331.9L1176.7 1335.9L1174.2 1336.2L1170.2 1336.2ZM1182.7 1330.7L1185.1 1330.4L1189.1 1330.4L1189.1 1334.4L1186.7 1334.7L1182.7 1334.7ZM1195.1 1329.2L1197.6 1328.9L1201.6 1328.9L1201.6 1332.9L1199.1 1333.2L1195.1 1333.2ZM1207.5 1327.8L1210 1327.5L1214 1327.5L1214 1331.5L1211.5 1331.8L1207.5 1331.8ZM1217.4 1326.6L1219.9 1326.2L1223.9 1326.2L1223.9 1330.2L1221.4 1330.6L1217.4 1330.6ZM1229.7 1324.4L1232.2 1323.9L1236.2 1323.9L1236.2 1327.9L1233.7 1328.4L1229.7 1328.4ZM1242 1322.1L1244.5 1321.7L1248.5 1321.7L1248.5 1325.7L1246 1326.1L1242 1326.1ZM1254.3 1319.9L1256.8 1319.4L1260.8 1319.4L1260.8 1323.4L1258.3 1323.9L1254.3 1323.9ZM1266.6 1317.7L1269.1 1317.2L1273.1 1317.2L1273.1 1321.2L1270.6 1321.7L1266.6 1321.7ZM1278.9 1315.4L1281.4 1315L1285.4 1315L1285.4 1319L1282.9 1319.4L1278.9 1319.4ZM1291.2 1313.2L1293.7 1312.7L1297.7 1312.7L1297.7 1316.7L1295.2 1317.2L1291.2 1317.2ZM1303.5 1311L1306 1310.5L1310 1310.5L1310 1314.5L1307.5 1315L1303.5 1315ZM1314.2 1309L1316.5 1308L1320.5 1308L1320.5 1312L1318.2 1313L1314.2 1313ZM1325.7 1304.1L1328 1303.1L1332 1303.1L1332 1307.1L1329.7 1308.1L1325.7 1308.1ZM1337.2 1299.2L1339.5 1298.2L1343.5 1298.2L1343.5 1302.2L1341.2 1303.2L1337.2 1303.2ZM1348.7 1294.3L1351 1293.3L1355 1293.3L1355 1297.3L1352.7 1298.3L1348.7 1298.3ZM1360.2 1289.3L1362.5 1288.4L1366.5 1288.4L1366.5 1292.4L1364.2 1293.3L1360.2 1293.3ZM1371.7 1284.4L1374 1283.4L1378 1283.4L1378 1287.4L1375.7 1288.4L1371.7 1288.4ZM1383.2 1279.5L1385.5 1278.5L1389.5 1278.5L1389.5 1282.5L1387.2 1283.5L1383.2 1283.5ZM1394.7 1274.6L1397 1273.6L1401 1273.6L1401 1277.6L1398.7 1278.6L1394.7 1278.6ZM1406.2 1269.7L1408.5 1268.7L1412.5 1268.7L1412.5 1272.7L1410.2 1273.7L1406.2 1273.7ZM1411.1 1267.6L1413.2 1266.2L1417.2 1266.2L1417.2 1270.2L1415.1 1271.6L1411.1 1271.6ZM1421.6 1260.8L1423.7 1259.5L1427.7 1259.5L1427.7 1263.5L1425.6 1264.8L1421.6 1264.8ZM1432.1 1254L1434.2 1252.7L1438.2 1252.7L1438.2 1256.7L1436.1 1258L1432.1 1258ZM1442.5 1247.2L1444.6 1245.9L1448.6 1245.9L1448.6 1249.9L1446.5 1251.2L1442.5 1251.2ZM1453 1240.5L1455.1 1239.1L1459.1 1239.1L1459.1 1243.1L1457 1244.5L1453 1244.5ZM1463.5 1233.7L1465.6 1232.3L1469.6 1232.3L1469.6 1236.3L1467.5 1237.7L1463.5 1237.7ZM1474 1226.9L1476.1 1225.5L1480.1 1225.5L1480.1 1229.5L1478 1230.9L1474 1230.9ZM1484.5 1220.1L1486.6 1218.7L1490.6 1218.7L1490.6 1222.7L1488.5 1224.1L1484.5 1224.1ZM1495 1213.3L1497.1 1211.9L1501.1 1211.9L1501.1 1215.9L1499 1217.3L1495 1217.3ZM1505.5 1206.5L1507.6 1205.2L1511.6 1205.2L1511.6 1209.2L1509.5 1210.5L1505.5 1210.5ZM1507.9 1205L1510 1203.6L1514 1203.6L1514 1207.6L1511.9 1209L1507.9 1209ZM1518.3 1198.1L1520.4 1196.7L1524.4 1196.7L1524.4 1200.7L1522.3 1202.1L1518.3 1202.1ZM1528.7 1191.1L1530.8 1189.8L1534.8 1189.8L1534.8 1193.8L1532.7 1195.1L1528.7 1195.1ZM1539.1 1184.2L1541.2 1182.8L1545.2 1182.8L1545.2 1186.8L1543.1 1188.2L1539.1 1188.2ZM1549.5 1177.3L1551.6 1175.9L1555.6 1175.9L1555.6 1179.9L1553.5 1181.3L1549.5 1181.3ZM1559.9 1170.3L1562 1169L1566 1169L1566 1173L1563.9 1174.3L1559.9 1174.3ZM1570.3 1163.4L1572.4 1162L1576.4 1162L1576.4 1166L1574.3 1167.4L1570.3 1167.4ZM1580.7 1156.5L1582.8 1155.1L1586.8 1155.1L1586.8 1159.1L1584.7 1160.5L1580.7 1160.5ZM1591.1 1149.6L1593.2 1148.2L1597.2 1148.2L1597.2 1152.2L1595.1 1153.6L1591.1 1153.6ZM1601.5 1142.6L1603.6 1141.2L1607.6 1141.2L1607.6 1145.2L1605.5 1146.6L1601.5 1146.6ZM1604.7 1140.5L1606.7 1139L1610.7 1139L1610.7 1143L1608.7 1144.5L1604.7 1144.5ZM1614.5 1132.8L1616.5 1131.2L1620.5 1131.2L1620.5 1135.2L1618.5 1136.8L1614.5 1136.8ZM1624.4 1125.1L1626.3 1123.5L1630.3 1123.5L1630.3 1127.5L1628.4 1129.1L1624.4 1129.1ZM1634.2 1117.3L1636.2 1115.8L1640.2 1115.8L1640.2 1119.8L1638.2 1121.3L1634.2 1121.3ZM1644 1109.6L1646 1108.1L1650 1108.1L1650 1112.1L1648 1113.6L1644 1113.6ZM1653.9 1101.9L1655.8 1100.4L1659.8 1100.4L1659.8 1104.4L1657.9 1105.9L1653.9 1105.9ZM1663.7 1094.2L1665.7 1092.6L1669.7 1092.6L1669.7 1096.6L1667.7 1098.2L1663.7 1098.2ZM1673.5 1086.5L1675.5 1084.9L1679.5 1084.9L1679.5 1088.9L1677.5 1090.5L1673.5 1090.5ZM1683.4 1078.8L1685.3 1077.2L1689.3 1077.2L1689.3 1081.2L1687.4 1082.8L1683.4 1082.8ZM1693.2 1071L1695.2 1069.5L1699.2 1069.5L1699.2 1073.5L1697.2 1075L1693.2 1075ZM1796.6 963.8L1798.4 962L1802.4 962L1802.4 966L1800.6 967.8L1796.6 967.8ZM1788.1 972.9L1789.8 971.1L1793.8 971.1L1793.8 975.1L1792.1 976.9L1788.1 976.9ZM1779.5 982L1781.2 980.2L1785.2 980.2L1785.2 984.2L1783.5 986L1779.5 986ZM1770.9 991.1L1772.6 989.3L1776.6 989.3L1776.6 993.3L1774.9 995.1L1770.9 995.1ZM1762.3 1000.2L1764 998.3L1768 998.3L1768 1002.3L1766.3 1004.2L1762.3 1004.2ZM1753.7 1009.3L1755.4 1007.4L1759.4 1007.4L1759.4 1011.4L1757.7 1013.3L1753.7 1013.3ZM1745.1 1018.3L1746.9 1016.5L1750.9 1016.5L1750.9 1020.5L1749.1 1022.3L1745.1 1022.3ZM1736.6 1027.4L1738.3 1025.6L1742.3 1025.6L1742.3 1029.6L1740.6 1031.4L1736.6 1031.4ZM1728 1036.5L1729.7 1034.7L1733.7 1034.7L1733.7 1038.7L1732 1040.5L1728 1040.5ZM1719.4 1045.6L1721.1 1043.8L1725.1 1043.8L1725.1 1047.8L1723.4 1049.6L1719.4 1049.6ZM1710.8 1054.7L1712.5 1052.9L1716.5 1052.9L1716.5 1056.9L1714.8 1058.7L1710.8 1058.7ZM1702.2 1063.8L1703.9 1062L1707.9 1062L1707.9 1066L1706.2 1067.8L1702.2 1067.8ZM1893.6 845.4L1895.2 843.5L1899.2 843.5L1899.2 847.5L1897.6 849.4L1893.6 849.4ZM1885.7 855.1L1887.3 853.2L1891.3 853.2L1891.3 857.2L1889.7 859.1L1885.7 859.1ZM1877.8 864.8L1879.4 862.9L1883.4 862.9L1883.4 866.9L1881.8 868.8L1877.8 868.8ZM1869.9 874.5L1871.4 872.5L1875.4 872.5L1875.4 876.5L1873.9 878.5L1869.9 878.5ZM1862 884.2L1863.5 882.2L1867.5 882.2L1867.5 886.2L1866 888.2L1862 888.2ZM1854 893.8L1855.6 891.9L1859.6 891.9L1859.6 895.9L1858 897.8L1854 897.8ZM1846.1 903.5L1847.7 901.6L1851.7 901.6L1851.7 905.6L1850.1 907.5L1846.1 907.5ZM1838.2 913.2L1839.8 911.3L1843.8 911.3L1843.8 915.3L1842.2 917.2L1838.2 917.2ZM1830.3 922.9L1831.9 920.9L1835.9 920.9L1835.9 924.9L1834.3 926.9L1830.3 926.9ZM1822.4 932.6L1824 930.6L1828 930.6L1828 934.6L1826.4 936.6L1822.4 936.6ZM1814.5 942.2L1816.1 940.3L1820.1 940.3L1820.1 944.3L1818.5 946.2L1814.5 946.2ZM1806.6 951.9L1808.2 950L1812.2 950L1812.2 954L1810.6 955.9L1806.6 955.9ZM1798.7 961.6L1800.3 959.7L1804.3 959.7L1804.3 963.7L1802.7 965.6L1798.7 965.6ZM1990.5 719L1992 717L1996 717L1996 721L1994.5 723L1990.5 723ZM1982.9 728.9L1984.4 726.9L1988.4 726.9L1988.4 730.9L1986.9 732.9L1982.9 732.9ZM1975.3 738.8L1976.8 736.9L1980.8 736.9L1980.8 740.9L1979.3 742.8L1975.3 742.8ZM1967.7 748.8L1969.2 746.8L1973.2 746.8L1973.2 750.8L1971.7 752.8L1967.7 752.8ZM1960.1 758.7L1961.6 756.7L1965.6 756.7L1965.6 760.7L1964.1 762.7L1960.1 762.7ZM1952.5 768.6L1954 766.6L1958 766.6L1958 770.6L1956.5 772.6L1952.5 772.6ZM1944.9 778.5L1946.4 776.6L1950.4 776.6L1950.4 780.6L1948.9 782.5L1944.9 782.5ZM1937.3 788.5L1938.8 786.5L1942.8 786.5L1942.8 790.5L1941.3 792.5L1937.3 792.5ZM1929.7 798.4L1931.2 796.4L1935.2 796.4L1935.2 800.4L1933.7 802.4L1929.7 802.4ZM1922.1 808.3L1923.6 806.3L1927.6 806.3L1927.6 810.3L1926.1 812.3L1922.1 812.3ZM1914.5 818.2L1916 816.3L1920 816.3L1920 820.3L1918.5 822.2L1914.5 822.2ZM1906.9 828.2L1908.4 826.2L1912.4 826.2L1912.4 830.2L1910.9 832.2L1906.9 832.2ZM1899.3 838.1L1900.8 836.1L1904.8 836.1L1904.8 840.1L1903.3 842.1L1899.3 842.1Z" fill="#B43527" stroke="none" shape-rendering="crispEdges"/>
<g opacity="0.999">
<line x1="2087" y1="320" x2="2170" y2="320" stroke="#E7B755" stroke-width="4" shape-rendering="crispEdges"/>
<text transform="translate(2186.80,338.00) scale(1,1.06)" font-size="64.7">Data (H</text>
<path d="M2433.13 338.00L2433.13 292.00L2428.99 292.00C2427.96 296.59 2423.94 300.09 2416.63 300.80L2416.63 305.33L2427.18 305.33L2427.18 338.00Z" fill="#EFE4C7"/>
<text transform="translate(2445.69,338.00) scale(1,1.06)" font-size="64.7">)</text>
<line x1="2087" y1="640" x2="2170" y2="640" stroke="#E7B755" stroke-width="4" shape-rendering="crispEdges" stroke-dasharray="5 5"/>
<text transform="translate(2186.80,658.00) scale(1,1.06)" font-size="64.7">Noise (H</text>
<path d="M2461.87 658.00L2461.87 612.00L2457.73 612.00C2456.70 616.59 2452.68 620.09 2445.37 620.80L2445.37 625.33L2455.92 625.33L2455.92 658.00Z" fill="#EFE4C7"/>
<text transform="translate(2474.43,658.00) scale(1,1.06)" font-size="64.7">)</text>
<line x1="2087" y1="960" x2="2170" y2="960" stroke="#B43527" stroke-width="4" shape-rendering="crispEdges"/>
<text transform="translate(2186.80,978.00) scale(1,1.06)" font-size="64.7">Data (L</text>
<path d="M2422.39 978.00L2422.39 932.00L2418.24 932.00C2417.21 936.59 2413.20 940.09 2405.89 940.80L2405.89 945.33L2416.43 945.33L2416.43 978.00Z" fill="#EFE4C7"/>
<text transform="translate(2434.94,978.00) scale(1,1.06)" font-size="64.7">)</text>
<line x1="2087" y1="1280" x2="2170" y2="1280" stroke="#B43527" stroke-width="4" shape-rendering="crispEdges" stroke-dasharray="5 5"/>
<text transform="translate(2186.80,1298.00) scale(1,1.06)" font-size="64.7">Noise (L</text>
<path d="M2451.14 1298.00L2451.14 1252.00L2447.00 1252.00C2445.96 1256.59 2441.95 1260.09 2434.64 1260.80L2434.64 1265.33L2445.19 1265.33L2445.19 1298.00Z" fill="#EFE4C7"/>
<text transform="translate(2463.70,1298.00) scale(1,1.06)" font-size="64.7">)</text>
<text transform="translate(903.30,72.90) scale(1,1.04)" font-size="72.9">Amplitude variance</text>
<text transform="translate(107.3,600.6) rotate(-90) scale(1,1.025)" font-size="52">Amplitude variance</text>
<text transform="translate(1694.10,1542.70) scale(1,1.025)" font-size="52">Frequency [Hz]</text>
<path d="M177.22 1200.10L177.22 1163.13L173.90 1163.13C173.06 1166.82 169.84 1169.63 163.96 1170.20L163.96 1173.84L172.44 1173.84L172.44 1200.10Z" fill="#EFE4C7"/>
<text transform="translate(187.32,1200.10) scale(1,1.0)" font-size="52">0</text>
<path d="M653.02 1512.10L653.02 1475.13L649.70 1475.13C648.86 1478.82 645.64 1481.63 639.76 1482.20L639.76 1485.84L648.24 1485.84L648.24 1512.10Z" fill="#EFE4C7"/>
<text transform="translate(663.12,1512.10) scale(1,1.0)" font-size="52">0</text>
<path d="M1891.12 1512.00L1891.12 1475.03L1887.80 1475.03C1886.96 1478.72 1883.74 1481.53 1877.86 1482.10L1877.86 1485.74L1886.34 1485.74L1886.34 1512.00Z" fill="#EFE4C7"/>
<text transform="translate(1901.22,1512.00) scale(1,1.0)" font-size="52">0</text>
<rect x="215.3" y="1167.8" width="17.7" height="2.4" fill="#EFE4C7"/>
<text transform="translate(234.00,1177.90) scale(1,1.0)" font-size="35">47</text>
<text transform="translate(690.20,1488.90) scale(1,1.0)" font-size="35">2</text>
<text transform="translate(1928.50,1488.80) scale(1,1.0)" font-size="35">3</text>
</g>
</svg></body></html>
